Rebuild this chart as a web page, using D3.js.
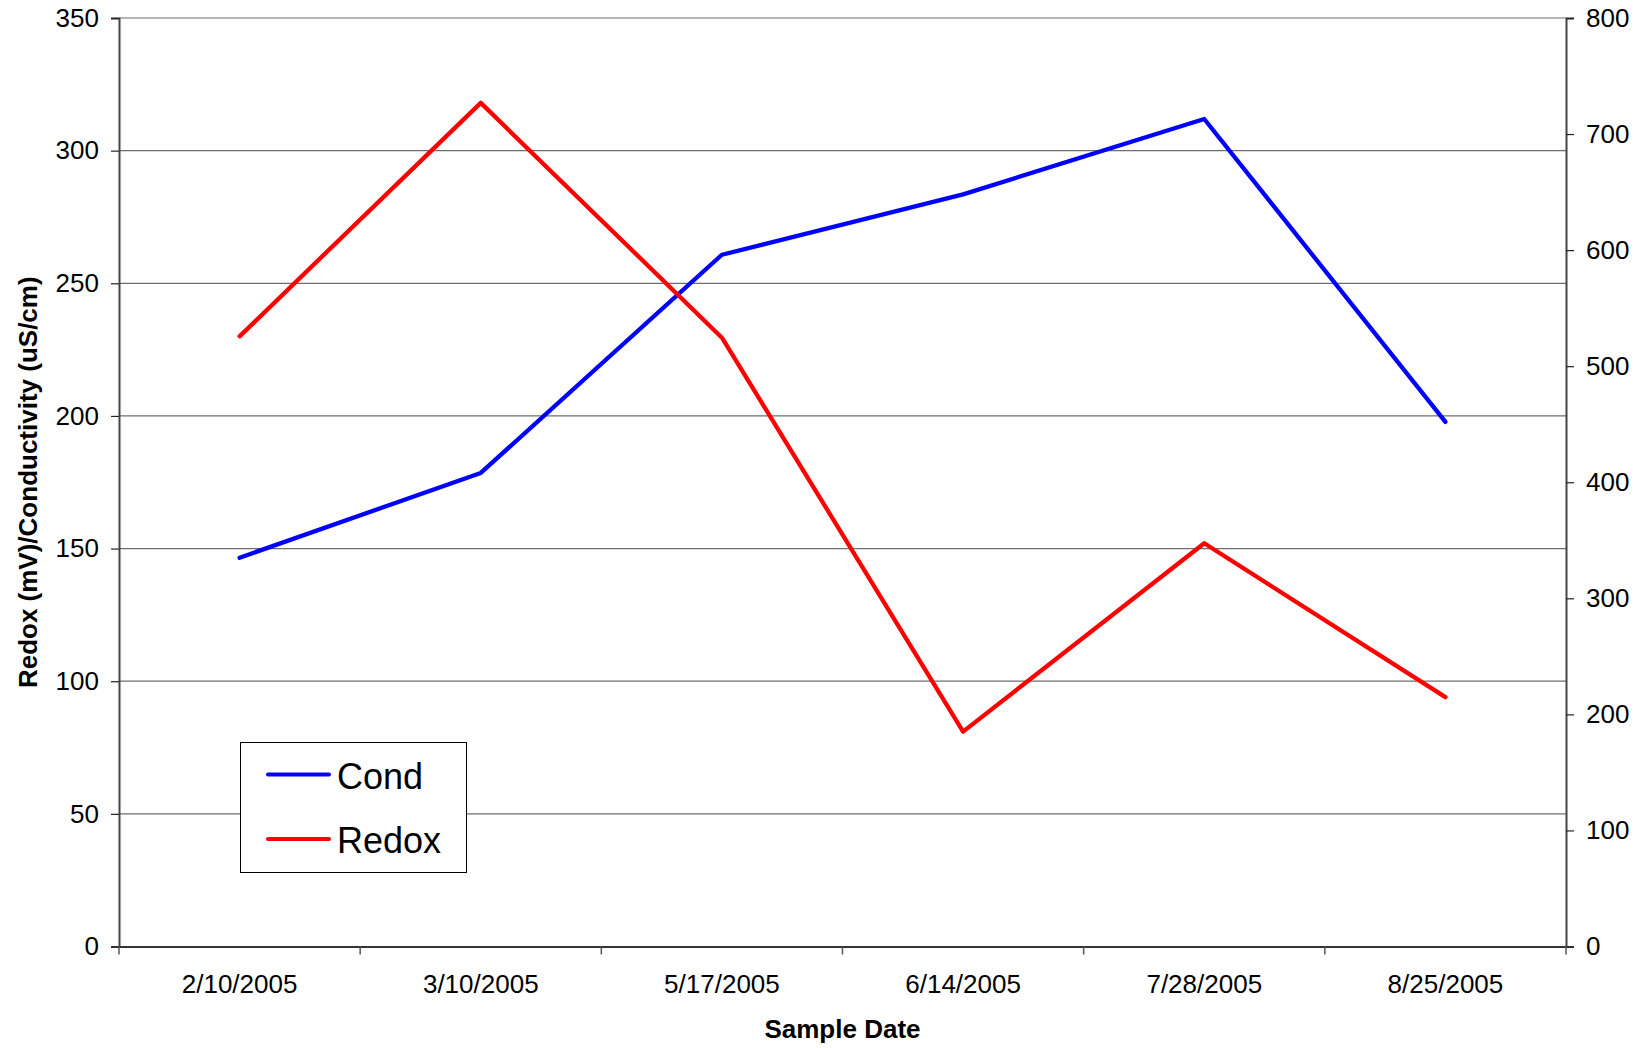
<!DOCTYPE html>
<html>
<head>
<meta charset="utf-8">
<script src="https://cdn.jsdelivr.net/npm/d3@7"></script>
<style>
  html, body { margin: 0; padding: 0; background: #fff; }
  svg { display: block; font-family: "Liberation Sans", Arial, sans-serif; }
</style>
</head>
<body>
<svg id="chart" width="1644" height="1048"></svg>
<script>
const categories = ["2/10/2005", "3/10/2005", "5/17/2005", "6/14/2005", "7/28/2005", "8/25/2005"];
const condValues = [335, 408, 596, 648, 713, 452];   // right axis (uS/cm)
const redoxValues = [230, 318, 229.5, 81, 152, 94];  // left axis (mV)
const leftTicks = [0, 50, 100, 150, 200, 250, 300, 350];
const rightTicks = [0, 100, 200, 300, 400, 500, 600, 700, 800];
const seriesNames = ["Cond", "Redox"];
const seriesColors = ["#0000ff", "#ff0000"];

const svg = d3.select("#chart");
const L = 119, R = 1566, T = 18, B = 946.5;

const x = d3.scaleBand().domain(categories).range([L, R]).padding(0);
const yL = d3.scaleLinear().domain([0, 350]).range([B, T]);
const yR = d3.scaleLinear().domain([0, 800]).range([B, T]);

// gridlines
svg.append("g").selectAll("line").data(leftTicks.filter(d => d > 0)).join("line")
  .attr("x1", L).attr("x2", R)
  .attr("y1", d => yL(d)).attr("y2", d => yL(d))
  .attr("stroke", "#6e6e6e").attr("stroke-width", 1.2);

// left axis
const gL = svg.append("g").attr("transform", `translate(${L},0)`)
  .call(d3.axisLeft(yL).tickValues(leftTicks).tickSize(8).tickPadding(12).tickFormat(d3.format("d")));
gL.select(".domain").attr("stroke", "#444").attr("stroke-width", 2);
gL.selectAll(".tick line").attr("stroke", "#222").attr("stroke-width", 1.2);
gL.selectAll(".tick text").attr("font-size", 26).attr("fill", "#000")
  .attr("font-family", "'Liberation Sans', Arial, sans-serif");

// right axis
const gR = svg.append("g").attr("transform", `translate(${R},0)`)
  .call(d3.axisRight(yR).tickValues(rightTicks).tickSize(8).tickPadding(12).tickFormat(d3.format("d")));
gR.select(".domain").attr("stroke", "#444").attr("stroke-width", 2);
gR.selectAll(".tick line").attr("stroke", "#222").attr("stroke-width", 1.2);
gR.selectAll(".tick text").attr("font-size", 26).attr("fill", "#000")
  .attr("font-family", "'Liberation Sans', Arial, sans-serif");

// bottom axis
const gB = svg.append("g").attr("transform", `translate(0,${B})`)
  .call(d3.axisBottom(x).tickSize(0).tickPadding(28));
gB.select(".domain").attr("stroke", "#333").attr("stroke-width", 2);
gB.selectAll(".tick text").attr("font-size", 26).attr("fill", "#000")
  .attr("font-family", "'Liberation Sans', Arial, sans-serif");
// tick marks at category boundaries
const boundaries = categories.map(c => x(c)).concat([x(categories[categories.length - 1]) + x.bandwidth()]);
svg.append("g").selectAll("line").data(boundaries).join("line")
  .attr("x1", d => d).attr("x2", d => d)
  .attr("y1", B).attr("y2", B + 8)
  .attr("stroke", "#555").attr("stroke-width", 1.5);

// lines
const cx = c => x(c) + x.bandwidth() / 2;
const lineCond = d3.line().x((d, i) => cx(categories[i])).y(d => yR(d));
const lineRedox = d3.line().x((d, i) => cx(categories[i])).y(d => yL(d));

svg.append("path").datum(condValues).attr("d", lineCond)
  .attr("fill", "none").attr("stroke", seriesColors[0]).attr("stroke-width", 4.3)
  .attr("stroke-linejoin", "round").attr("stroke-linecap", "round");
svg.append("path").datum(redoxValues).attr("d", lineRedox)
  .attr("fill", "none").attr("stroke", seriesColors[1]).attr("stroke-width", 4.3)
  .attr("stroke-linejoin", "round").attr("stroke-linecap", "round");

// axis titles
svg.append("text").attr("x", (L + R) / 2).attr("y", 1038)
  .attr("text-anchor", "middle").attr("font-size", 26).attr("font-weight", "bold")
  .text("Sample Date");
svg.append("text").attr("transform", `translate(37,${(T + B) / 2}) rotate(-90)`)
  .attr("text-anchor", "middle").attr("font-size", 26).attr("font-weight", "bold")
  .text("Redox (mV)/Conductivity (uS/cm)");

// legend
const lg = svg.append("g");
lg.append("rect").attr("x", 240.5).attr("y", 742.5).attr("width", 226).attr("height", 130)
  .attr("fill", "#fff").attr("stroke", "#000").attr("stroke-width", 1);
const legendY = [774.5, 839];
seriesNames.forEach((n, i) => {
  lg.append("line").attr("x1", 268).attr("x2", 329)
    .attr("y1", legendY[i]).attr("y2", legendY[i])
    .attr("stroke", seriesColors[i]).attr("stroke-width", 4).attr("stroke-linecap", "round");
  lg.append("text").attr("x", 337).attr("y", legendY[i] + 14)
    .attr("font-size", 36).attr("fill", "#000").text(n);
});
</script>
</body>
</html>
